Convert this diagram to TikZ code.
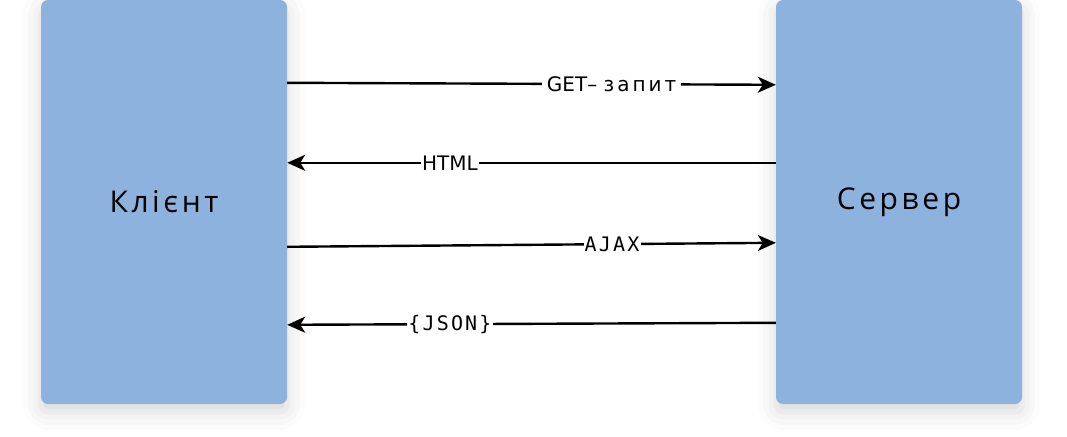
\documentclass[tikz,border=0pt]{standalone}
\usepackage{fontspec}
\usetikzlibrary{arrows.meta,shadows.blur}
\newfontfamily\boxfont[LetterSpace=12]{Open Sans}
\newfontfamily\lblfont{DejaVu Sans}
\newfontfamily\lblwide[LetterSpace=15]{DejaVu Sans}
\newfontfamily\lblmono[LetterSpace=11]{DejaVu Sans Mono}
\definecolor{boxblue}{HTML}{8DB2DE}
\tikzset{
  box/.style={fill=boxblue, draw=none, rounded corners=7pt, minimum width=246pt, minimum height=404pt,
    font=\boxfont\fontsize{30}{34}\selectfont, text=black,
    blur shadow={shadow xshift=0pt, shadow yshift=-8pt, shadow blur radius=18pt, shadow opacity=16}},
  conn/.style={draw=black, line width=2.4pt, arrows={-Stealth[length=18pt,width=16pt,inset=5pt]}},
  lbl/.style={fill=white, inner sep=1pt, text=black, font=\lblfont\fontsize{20}{22}\selectfont},
  monolbl/.style={lbl, font=\lblmono\fontsize{20}{22}\selectfont}
}
\begin{document}
\begin{tikzpicture}[x=1pt,y=-1pt]
\useasboundingbox (0,0) rectangle (1067,436);
\node[box] (client) at (164,202) {\raisebox{-3pt}{Клієнт}};
\node[box] (server) at (899,202) {Сервер};
\draw[conn] ([yshift=-83pt]client.north east) -- node[lbl, pos=0.664, inner xsep=5pt] (l1) {GET– {\lblwide запит}} ([yshift=-85pt]server.north west);
\draw[conn] ([yshift=-163pt]server.north west) -- node[lbl, pos=0.667] (l2) {HTML} ([yshift=-163pt]client.north east);
\draw[conn] ([yshift=-247pt]client.north east) -- node[monolbl, pos=0.665] (l3) {AJAX} ([yshift=-243pt]server.north west);
\draw[conn] ([yshift=-323pt]server.north west) -- node[monolbl, pos=0.667] (l4) {\{JSON\}} ([yshift=-325pt]client.north east);
\end{tikzpicture}
\end{document}
